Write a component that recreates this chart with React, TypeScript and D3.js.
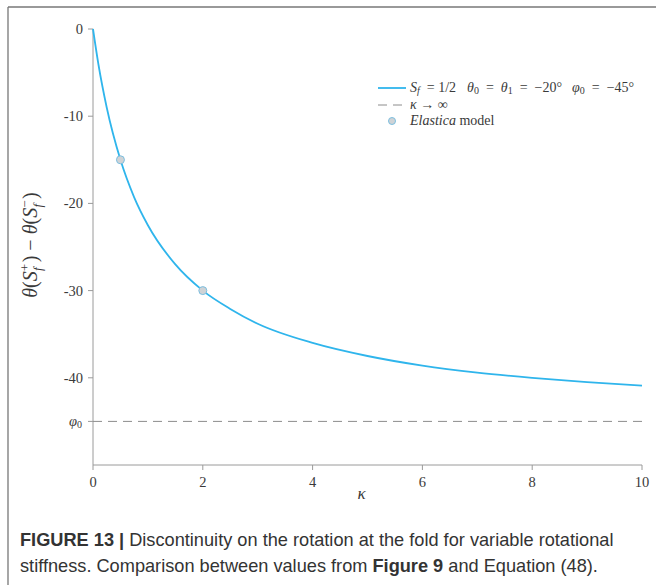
import React from 'react';
import * as d3 from 'd3';

const kappa = [0, 0.1, 0.25, 0.5, 0.75, 1, 1.5, 2, 2.5, 3, 4, 5, 6, 7, 8, 9, 10];
const deltaTheta = [0, -4.1, -9, -15, -19.3, -22.5, -27, -30, -32.1, -33.8, -36, -37.5, -38.6, -39.4, -40, -40.5, -40.9];
const elasticaKappa = [0.5, 2];
const elasticaTheta = [-15, -30];
const xTicks = [0, 2, 4, 6, 8, 10];
const yTicks = [0, -10, -20, -30, -40];
const phi0 = -45;

const W = 656, H = 585;
const serif = '"Liberation Serif", "DejaVu Serif", serif';
const sans = '"Liberation Sans", Arial, sans-serif';
const blue = '#2fb5ec';
const axisCol = '#9a9a9a';
const textCol = '#3a3a3a';

export default function App() {
  const x = d3.scaleLinear().domain([0, 10]).range([93, 642]);
  const y = d3.scaleLinear().domain([-50, 0]).range([465, 29]);
  const pts = kappa.map((k, i) => [k, deltaTheta[i]] as [number, number]);
  const line = d3.line<[number, number]>().x(d => x(d[0])).y(d => y(d[1])).curve(d3.curveMonotoneX);

  const lg = { fontFamily: serif, fontSize: 14, fill: textCol } as any;

  return (
    <svg width={W} height={H} style={{ position: 'absolute', left: 0, top: 0, background: '#fff' }}>
      {/* frame */}
      <line x1={8} y1={7} x2={W} y2={7} stroke="#777" strokeWidth={1.3} />
      <line x1={8} y1={7} x2={8} y2={H} stroke="#777" strokeWidth={1.3} />

      {/* axes */}
      <line x1={x(0)} y1={y(0)} x2={x(0)} y2={y(-50)} stroke={axisCol} strokeWidth={1} />
      <line x1={x(0)} y1={y(-50)} x2={x(10)} y2={y(-50)} stroke={axisCol} strokeWidth={1} />
      {yTicks.map(t => (
        <g key={'y' + t}>
          <line x1={x(0) - 5} x2={x(0)} y1={y(t)} y2={y(t)} stroke={axisCol} />
          <text x={x(0) - 10} y={y(t)} dy="0.35em" textAnchor="end" fontFamily={serif} fontSize={14.5} fill={textCol}>{t === 0 ? '0' : '-' + Math.abs(t)}</text>
        </g>
      ))}
      <line x1={x(0) - 5} x2={x(0)} y1={y(phi0)} y2={y(phi0)} stroke={axisCol} />
      <text x={x(0) - 11} y={y(phi0)} dy="0.35em" textAnchor="end" fontFamily={serif} fontSize={14.5} fill={textCol}>
        <tspan fontStyle="italic">φ</tspan><tspan fontSize="10" dy="2">0</tspan>
      </text>
      {xTicks.map(t => (
        <g key={'x' + t}>
          <line x1={x(t)} x2={x(t)} y1={y(-50)} y2={y(-50) + 5} stroke={axisCol} />
          <text x={x(t)} y={y(-50) + 22} textAnchor="middle" fontFamily={serif} fontSize={14.5} fill={textCol}>{t}</text>
        </g>
      ))}
      <text x={x(5) - 6} y={499} textAnchor="middle" fontFamily={serif} fontStyle="italic" fontSize={17} fill={textCol}>κ</text>
      <text transform="translate(37,245) rotate(-90)" textAnchor="middle" fontFamily={serif} fontSize={20} fill={textCol} xmlSpace="preserve">
        <tspan fontStyle="italic">θ</tspan>(<tspan fontStyle="italic">S</tspan><tspan fontSize="13" dy="-8">+</tspan><tspan fontSize="13" fontStyle="italic" dx="-7" dy="13">f</tspan><tspan dy="-5"> ) − </tspan><tspan fontStyle="italic">θ</tspan>(<tspan fontStyle="italic">S</tspan><tspan fontSize="13" dy="-8">−</tspan><tspan fontSize="13" fontStyle="italic" dx="-7" dy="13">f</tspan><tspan dy="-5"> )</tspan>
      </text>

      {/* dashed asymptote */}
      <line x1={x(0)} x2={x(10)} y1={y(phi0)} y2={y(phi0)} stroke="#8c8c8c" strokeWidth={1} strokeDasharray="9,6" />

      {/* curve */}
      <path d={line(pts) || ''} fill="none" stroke={blue} strokeWidth={1.8} />
      {elasticaKappa.map((k, i) => (
        <circle key={'e' + i} cx={x(k)} cy={y(elasticaTheta[i])} r={4} fill="#cfd3d6" stroke="#7cbfe0" strokeWidth={1} />
      ))}

      {/* legend */}
      <line x1={378} x2={406} y1={88} y2={88} stroke={blue} strokeWidth={1.8} />
      <text x={410} y={92} {...lg} xmlSpace="preserve">
        <tspan fontStyle="italic">S</tspan><tspan fontSize="10" fontStyle="italic" dy="2">f</tspan><tspan dy="-2">  = 1/2</tspan>
      </text>
      <text x={467} y={92} {...lg} xmlSpace="preserve">
        <tspan fontStyle="italic">θ</tspan><tspan fontSize="10" dy="2">0</tspan><tspan dy="-2">  =  </tspan><tspan fontStyle="italic">θ</tspan><tspan fontSize="10" dy="2">1</tspan><tspan dy="-2">  =  −20°</tspan>
      </text>
      <text x={572} y={92} {...lg} xmlSpace="preserve">
        <tspan fontStyle="italic">φ</tspan><tspan fontSize="10" dy="2">0</tspan><tspan dy="-2">  =  −45°</tspan>
      </text>
      <line x1={378} x2={404} y1={105} y2={105} stroke="#8c8c8c" strokeWidth={1} strokeDasharray="9,6" />
      <text x={410} y={109} {...lg} xmlSpace="preserve">
        <tspan fontStyle="italic">κ</tspan> → ∞
      </text>
      <circle cx={392} cy={121} r={3.5} fill="#cfd3d6" stroke="#7cbfe0" strokeWidth={1} />
      <text x={410} y={125} {...lg} xmlSpace="preserve">
        <tspan fontStyle="italic">Elastica</tspan> model
      </text>

      {/* caption */}
      <text x={20} y={546} fontFamily={sans} fontSize={18.2} fill="#333">
        <tspan fontWeight="bold">FIGURE 13 | </tspan>Discontinuity on the rotation at the fold for variable rotational
      </text>
      <text x={20} y={572} fontFamily={sans} fontSize={18.2} fill="#333">
        stiffness. Comparison between values from <tspan fontWeight="bold">Figure 9</tspan> and Equation (48).
      </text>
    </svg>
  );
}
